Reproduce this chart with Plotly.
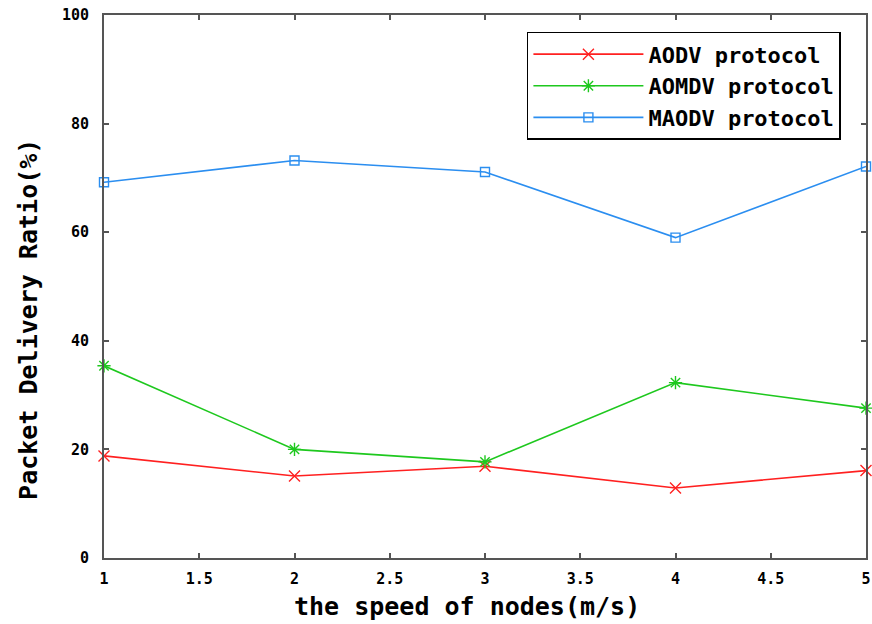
import plotly.graph_objects as go

speed = [1, 2, 3, 4, 5]
aodv = [18.8, 15.1, 16.9, 12.9, 16.1]
aomdv = [35.4, 20.0, 17.7, 32.3, 27.6]
maodv = [69.2, 73.2, 71.1, 59.0, 72.1]

x_ticks = [1, 1.5, 2, 2.5, 3, 3.5, 4, 4.5, 5]
x_tick_text = ["1", "1.5", "2", "2.5", "3", "3.5", "4", "4.5", "5"]
y_ticks = [0, 20, 40, 60, 80, 100]

FONT = "DejaVu Sans Mono"

fig = go.Figure()
fig.add_trace(go.Scatter(x=speed, y=aodv, mode="lines+markers", name="<b>AODV protocol</b>",
                         cliponaxis=False,
                         line=dict(color="#ff2020", width=1.6),
                         marker=dict(symbol="x-thin-open", size=11, line=dict(color="#ff2020", width=1.4))))
fig.add_trace(go.Scatter(x=speed, y=aomdv, mode="lines+markers", name="<b>AOMDV protocol</b>",
                         cliponaxis=False,
                         line=dict(color="#1ec81e", width=1.6),
                         marker=dict(symbol="asterisk-open", size=11, line=dict(color="#10b010", width=1.4))))
fig.add_trace(go.Scatter(x=speed, y=maodv, mode="lines+markers", name="<b>MAODV protocol</b>",
                         cliponaxis=False,
                         line=dict(color="#2b8ef0", width=1.6),
                         marker=dict(symbol="square-open", size=9, line=dict(color="#2b8ef0", width=1.4))))

axis_common = dict(showgrid=False, zeroline=False, showline=True, linecolor="#555555", linewidth=2,
                   mirror="ticks", ticks="inside", ticklen=5, tickcolor="#555555", tickwidth=2,
                   automargin=False)

fig.update_layout(
    width=872, height=624,
    margin=dict(l=104, r=6, t=15, b=66),
    plot_bgcolor="white", paper_bgcolor="white",
    font=dict(family=FONT, color="black"),
    xaxis=dict(range=[1, 5], tickvals=x_ticks, ticktext=["<b>%s</b>" % t for t in x_tick_text],
               tickfont=dict(size=15, family=FONT), ticklabelstandoff=6,
               **axis_common),
    yaxis=dict(range=[0, 100], tickvals=y_ticks, ticktext=["<b>%d</b>" % v for v in y_ticks],
               tickfont=dict(size=15, family=FONT), ticklabelstandoff=10,
               **axis_common),
    legend=dict(x=0.555, y=0.969, xanchor="left", yanchor="top",
                bordercolor="black", borderwidth=1.5, bgcolor="white",
                font=dict(size=22, family=FONT), itemwidth=110,
                tracegroupgap=0),
    showlegend=True,
    annotations=[
        dict(text="<b>the speed of nodes(m/s)</b>", xref="paper", yref="paper",
             x=0.476, y=-0.09, xanchor="center", yanchor="middle", showarrow=False,
             font=dict(size=25, family=FONT)),
        dict(text="<b>Packet Delivery Ratio(%)</b>", xref="paper", yref="paper",
             x=-0.1, y=0.44, xanchor="center", yanchor="middle", showarrow=False, textangle=-90,
             xshift=0, font=dict(size=25, family=FONT)),
    ],
)

fig.write_html("out.html", config={"displayModeBar": False},
               post_script="document.body.style.margin='0';document.body.style.overflow='hidden';")
